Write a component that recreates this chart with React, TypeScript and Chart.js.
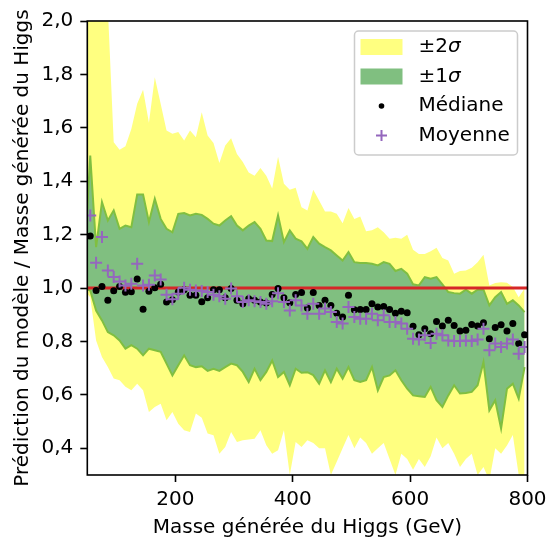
import React, { useEffect, useRef } from 'react';
import { Chart, registerables } from 'chart.js';

Chart.register(...registerables);

const FONT = '"DejaVu Sans", sans-serif';
const YELLOW = '#ffff80';
const GREEN = '#80bf80';
const GREEN_EDGE = '#80bf40';
const RED = '#d62728';
const PURPLE = '#9467bd';

// Masses (GeV) of the points
const masses = [
  55, 65, 75, 85, 95, 105, 115, 125, 135, 145,
  155, 165, 175, 185, 195, 205, 215, 225, 235, 245,
  255, 265, 275, 285, 295, 305, 315, 325, 335, 345,
  355, 365, 375, 385, 395, 405, 415, 425, 435, 445,
  455, 465, 475, 485, 495, 505, 515, 525, 535, 545,
  555, 565, 575, 585, 595, 605, 615, 625, 635, 645,
  655, 665, 675, 685, 695, 705, 715, 725, 735, 745,
  755, 765, 775, 785, 795,
];
// Masses of the band vertices (one more bin on the left, outside the axis)
const bandMasses = [45, ...masses];

const median = [
  1.195, 0.991, 1.006, 0.954, 0.990, 1.006, 0.984, 0.986, 1.034, 0.921,
  0.988, 1.001, 1.014, 0.948, 0.956, 0.985, 0.994, 0.973, 0.973, 0.949,
  0.964, 0.994, 0.994, 0.964, 0.998, 0.954, 0.941, 0.960, 0.954, 0.948,
  0.944, 0.976, 0.998, 0.964, 0.945, 0.976, 0.983, 0.925, 0.983, 0.935,
  0.954, 0.935, 0.906, 0.892, 0.973, 0.919, 0.920, 0.920, 0.941, 0.929,
  0.931, 0.920, 0.906, 0.913, 0.908, 0.857, 0.825, 0.848, 0.829, 0.875,
  0.858, 0.879, 0.860, 0.839, 0.842, 0.864, 0.858, 0.870, 0.810, 0.852,
  0.863, 0.839, 0.867, 0.792, 0.825,
];

const mean = [
  1.272, 1.095, 1.191, 1.066, 1.041, 1.025, 1.010, 1.016, 1.091, 1.010,
  1.012, 1.047, 1.032, 0.975, 0.958, 0.979, 1.001, 0.994, 0.991, 0.989,
  0.985, 0.975, 0.969, 0.960, 0.998, 0.969, 0.948, 0.954, 0.951, 0.948,
  0.941, 0.951, 0.981, 0.948, 0.916, 0.954, 0.935, 0.904, 0.941, 0.904,
  0.923, 0.910, 0.873, 0.867, 0.929, 0.892, 0.885, 0.885, 0.904, 0.879,
  0.898, 0.873, 0.873, 0.867, 0.848, 0.810, 0.807, 0.823, 0.794, 0.829,
  0.823, 0.804, 0.802, 0.802, 0.804, 0.802, 0.807, 0.848, 0.767, 0.792,
  0.779, 0.792, 0.807, 0.754, 0.779,
];

const sigma1Upper = [
  1.10,
  1.496, 1.153, 1.322, 1.253, 1.291, 1.222, 1.234, 1.228, 1.350, 1.350,
  1.247, 1.334, 1.259, 1.222, 1.209, 1.278, 1.281, 1.272, 1.278, 1.274,
  1.259, 1.241, 1.234, 1.253, 1.269, 1.234, 1.216, 1.234, 1.247, 1.222,
  1.178, 1.176, 1.272, 1.172, 1.216, 1.185, 1.175, 1.147, 1.191, 1.166,
  1.153, 1.141, 1.122, 1.103, 1.135, 1.097, 1.094, 1.094, 1.091, 1.085,
  1.097, 1.091, 1.064, 1.072, 1.054, 1.014, 1.010, 1.041, 1.035, 1.041,
  1.014, 0.985, 0.981, 0.979, 0.994, 0.979, 0.994, 0.994, 0.935, 0.966,
  0.985, 0.941, 0.954, 0.935, 0.910,
];

const sigma1Lower = [
  1.00,
  0.991, 0.916, 0.879, 0.835, 0.823, 0.804, 0.773, 0.786, 0.773, 0.748,
  0.773, 0.767, 0.761, 0.717, 0.673, 0.711, 0.748, 0.711, 0.704, 0.707,
  0.690, 0.698, 0.690, 0.704, 0.717, 0.711, 0.686, 0.648, 0.698, 0.655,
  0.686, 0.729, 0.667, 0.686, 0.636, 0.698, 0.683, 0.685, 0.674, 0.642,
  0.692, 0.648, 0.698, 0.661, 0.704, 0.655, 0.648, 0.655, 0.704, 0.617,
  0.667, 0.673, 0.692, 0.655, 0.623, 0.598, 0.595, 0.592, 0.630, 0.580,
  0.555, 0.598, 0.636, 0.605, 0.607, 0.611, 0.636, 0.723, 0.542, 0.580,
  0.474, 0.623, 0.642, 0.586, 0.704,
];

const sigma2Upper = [
  2.5,
  2.6, 2.7, 2.8, 2.05, 1.546, 1.518, 1.531, 1.596, 1.690, 1.743,
  1.619, 1.789, 1.690, 1.590, 1.578, 1.584, 1.553, 1.590, 1.565, 1.658,
  1.571, 1.543, 1.468, 1.534, 1.561, 1.502, 1.472, 1.433, 1.421, 1.450,
  1.421, 1.373, 1.492, 1.391, 1.368, 1.376, 1.303, 1.290, 1.368, 1.328,
  1.287, 1.287, 1.278, 1.243, 1.300, 1.259, 1.268, 1.213, 1.216, 1.228,
  1.209, 1.185, 1.188, 1.185, 1.200, 1.143, 1.128, 1.128, 1.138, 1.151,
  1.113, 1.103, 1.054, 1.064, 1.066, 1.076, 1.097, 1.125, 1.010, 1.019,
  1.022, 1.020, 1.004, 0.966, 0.998,
];

const sigma2Lower = [
  0.99,
  0.966, 0.804, 0.742, 0.704, 0.661, 0.655, 0.630, 0.617, 0.642, 0.617,
  0.536, 0.555, 0.567, 0.505, 0.536, 0.492, 0.468, 0.461, 0.530, 0.514,
  0.455, 0.449, 0.380, 0.405, 0.461, 0.424, 0.430, 0.433, 0.436, 0.468,
  0.411, 0.380, 0.393, 0.468, 0.300, 0.424, 0.405, 0.430, 0.420, 0.400,
  0.400, 0.300, 0.350, 0.400, 0.450, 0.400, 0.440, 0.420, 0.380, 0.400,
  0.420, 0.360, 0.300, 0.380, 0.360, 0.320, 0.360, 0.330, 0.370, 0.440,
  0.400, 0.420, 0.380, 0.330, 0.360, 0.380, 0.300, 0.330, 0.280, 0.400,
  0.380, 0.410, 0.450, 0.300, 0.280,
];

const referenceLine = [1.0, 1.0];
const referenceMasses = [50, 800];

const xTicks = [200, 400, 600, 800];
const yTicks = [0.4, 0.6, 0.8, 1.0, 1.2, 1.4, 1.6, 1.8, 2.0];

const legendLabels = ['±2', '±1', 'Médiane', 'Moyenne'];

const pts = (xs: number[], ys: number[]) => xs.map((x, i) => ({ x, y: ys[i] }));

const framePlugin = {
  id: 'frame',
  afterDatasetsDraw(chart: any) {
    const { ctx, chartArea: a } = chart;
    ctx.save();
    ctx.strokeStyle = '#000';
    ctx.lineWidth = 1.6;
    ctx.strokeRect(a.left, a.top, a.right - a.left, a.bottom - a.top);
    ctx.restore();
  },
};

const legendPlugin = {
  id: 'mplLegend',
  afterDraw(chart: any) {
    const { ctx, chartArea: a } = chart;
    const w = 163;
    const h = 124;
    const x = a.right - 10 - w;
    const y = a.top + 10;
    ctx.save();
    ctx.beginPath();
    ctx.roundRect(x, y, w, h, 4);
    ctx.fillStyle = 'rgba(255,255,255,0.8)';
    ctx.fill();
    ctx.lineWidth = 1.5;
    ctx.strokeStyle = '#cccccc';
    ctx.stroke();

    const hx = x + 6;
    const hw = 42;
    const rows = [y + 16, y + 45.5, y + 75, y + 104.5];
    ctx.fillStyle = YELLOW;
    ctx.fillRect(hx, rows[0] - 8, hw, 16);
    ctx.fillStyle = GREEN;
    ctx.fillRect(hx, rows[1] - 8, hw, 16);
    ctx.beginPath();
    ctx.arc(hx + hw / 2, rows[2], 2.8, 0, Math.PI * 2);
    ctx.fillStyle = '#000';
    ctx.fill();
    ctx.beginPath();
    ctx.strokeStyle = PURPLE;
    ctx.lineWidth = 2;
    ctx.moveTo(hx + hw / 2 - 5.5, rows[3]);
    ctx.lineTo(hx + hw / 2 + 5.5, rows[3]);
    ctx.moveTo(hx + hw / 2, rows[3] - 5.5);
    ctx.lineTo(hx + hw / 2, rows[3] + 5.5);
    ctx.stroke();

    const tx = x + 64;
    ctx.fillStyle = '#000';
    ctx.textBaseline = 'middle';
    ctx.textAlign = 'left';
    for (let i = 0; i < 4; i++) {
      ctx.font = `20px ${FONT}`;
      ctx.fillText(legendLabels[i], tx, rows[i]);
      if (i < 2) {
        const wd = ctx.measureText(legendLabels[i]).width;
        ctx.font = `italic 20px ${FONT}`;
        ctx.fillText('σ', tx + wd, rows[i]);
      }
    }
    ctx.restore();
  },
};

export default function App() {
  const ref = useRef<HTMLCanvasElement>(null);

  useEffect(() => {
    const canvas = ref.current;
    if (!canvas) return;
    const tickFont = { family: FONT, size: 20 };
    const chart = new Chart(canvas, {
      type: 'line',
      data: {
        datasets: [
          {
            label: '±2σ haut',
            data: pts(bandMasses, sigma2Upper),
            borderWidth: 0,
            borderColor: 'rgba(0,0,0,0)',
            backgroundColor: YELLOW,
            pointRadius: 0,
            fill: 1,
            order: 10,
            clip: 0,
          },
          {
            label: '±2σ bas',
            data: pts(bandMasses, sigma2Lower),
            borderWidth: 0,
            borderColor: 'rgba(0,0,0,0)',
            backgroundColor: YELLOW,
            pointRadius: 0,
            fill: false,
            order: 9,
            clip: 0,
          },
          {
            label: '±1σ haut',
            data: pts(bandMasses, sigma1Upper),
            borderWidth: 2,
            borderColor: GREEN_EDGE,
            backgroundColor: GREEN,
            pointRadius: 0,
            fill: 3,
            order: 8,
            clip: 0,
          },
          {
            label: '±1σ bas',
            data: pts(bandMasses, sigma1Lower),
            borderWidth: 2,
            borderColor: GREEN_EDGE,
            backgroundColor: GREEN,
            pointRadius: 0,
            fill: false,
            order: 7,
            clip: 0,
          },
          {
            label: 'Référence',
            data: pts(referenceMasses, referenceLine),
            borderWidth: 3,
            borderColor: RED,
            pointRadius: 0,
            fill: false,
            order: 6,
          },
          {
            label: 'Médiane',
            data: pts(masses, median),
            showLine: false,
            pointStyle: 'circle',
            pointRadius: 3.5,
            pointBorderWidth: 0,
            pointBackgroundColor: '#000',
            pointBorderColor: '#000',
            order: 5,
          },
          {
            label: 'Moyenne',
            data: pts(masses, mean),
            showLine: false,
            pointStyle: 'cross',
            pointRadius: 6,
            pointBorderWidth: 2,
            pointBorderColor: PURPLE,
            pointBackgroundColor: PURPLE,
            order: 4,
          },
        ],
      },
      options: {
        responsive: false,
        animation: false,
        devicePixelRatio: 1,
        events: [],
        layout: { padding: { left: 0, top: 21, right: 31.5, bottom: 0 } },
        plugins: {
          legend: { display: false },
          tooltip: { enabled: false },
        },
        scales: {
          x: {
            type: 'linear',
            min: 50,
            max: 800,
            afterBuildTicks: (s: any) => {
              s.ticks = xTicks.map((v) => ({ value: v }));
            },
            afterFit: (s: any) => {
              s.height = 68;
            },
            ticks: {
              font: tickFont,
              color: '#000',
              padding: 6,
              autoSkip: false,
              maxRotation: 0,
              callback: (v: any) => String(v),
            },
            grid: {
              display: true,
              drawOnChartArea: false,
              drawTicks: true,
              tickLength: 7,
              tickWidth: 1.6,
              tickColor: '#000',
            },
            border: { display: false },
            title: {
              display: true,
              text: 'Masse générée du Higgs (GeV)',
              font: { family: FONT, size: 20 },
              color: '#000',
              padding: { top: 0, bottom: 3 },
            },
          },
          y: {
            type: 'linear',
            min: 0.3,
            max: 2.0,
            afterBuildTicks: (s: any) => {
              s.ticks = yTicks.map((v) => ({ value: v }));
            },
            afterFit: (s: any) => {
              s.width = 87.3;
            },
            ticks: {
              font: tickFont,
              color: '#000',
              padding: 7,
              autoSkip: false,
              callback: (v: any) => Number(v).toFixed(1).replace('.', ','),
            },
            grid: {
              display: true,
              drawOnChartArea: false,
              drawTicks: true,
              tickLength: 7,
              tickWidth: 1.6,
              tickColor: '#000',
            },
            border: { display: false },
            title: {
              display: true,
              text: 'Prédiction du modèle / Masse générée du Higgs',
              font: { family: FONT, size: 20 },
              color: '#000',
              padding: { top: 11, bottom: 0 },
            },
          },
        },
      },
      plugins: [framePlugin, legendPlugin],
    } as any);
    return () => chart.destroy();
  }, []);

  return (
    <div style={{ position: 'fixed', left: 0, top: 0, width: 559, height: 543, background: '#fff' }}>
      <canvas ref={ref} width={559} height={543} style={{ width: 559, height: 543, display: 'block' }} />
    </div>
  );
}
